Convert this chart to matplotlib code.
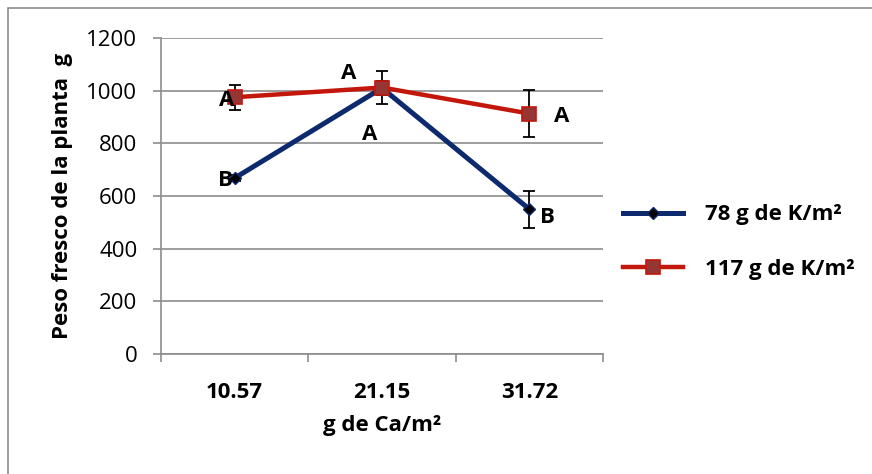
import matplotlib
matplotlib.use('Agg')
import matplotlib.pyplot as plt
from matplotlib.patches import Rectangle
import numpy as np

plt.rcParams['font.family'] = ['Open Sans', 'DejaVu Sans']

# ---- data ----
ca_levels = ['10.57', '21.15', '31.72']
peso_78 = [668, 1010, 550]
err_78 = [10, 25, 70]
peso_117 = [975, 1012, 913]
err_117 = [47, 63, 90]
letras_78 = ['B', 'A', 'B']
letras_117 = ['A', 'A', 'A']

azul = '#0e2a6e'
rojo = '#c4170c'
gris = '#8c8c8c'
fs = 16

fig = plt.figure(figsize=(8.72, 4.74), dpi=100)
ax = fig.add_axes([161/872, 1 - 354/474, 442/872, 316/474])

x = np.arange(len(ca_levels))

# error bars sit behind the markers
ax.errorbar(x, peso_78, yerr=err_78, fmt='none', ecolor='black', elinewidth=1.3,
            capsize=4, capthick=1.3, zorder=2)
ax.errorbar(x, peso_117, yerr=err_117, fmt='none', ecolor='black', elinewidth=1.3,
            capsize=4, capthick=1.3, zorder=2)
ax.plot(x, peso_78, '-', color=azul, lw=3.6, marker='D', markersize=6,
        markerfacecolor='black', markeredgecolor=azul, markeredgewidth=1,
        label='78 g de K/m²', zorder=3)
ax.plot(x, peso_117, '-', color=rojo, lw=3.2, marker='s', markersize=10,
        markerfacecolor='#963634', markeredgecolor=rojo, markeredgewidth=1.2,
        label='117 g de K/m²', zorder=4)

# significance letters
off_78 = [(-9, -2), (-12, -46), (18, -8)]
off_117 = [(-8, -3), (-33, 14), (32, -3)]
for i in range(len(x)):
    ax.annotate(letras_78[i], (x[i], peso_78[i]), xytext=off_78[i], textcoords='offset pixels',
                ha='center', va='center', fontsize=fs, fontweight='bold', zorder=5)
    ax.annotate(letras_117[i], (x[i], peso_117[i]), xytext=off_117[i], textcoords='offset pixels',
                ha='center', va='center', fontsize=fs, fontweight='bold', zorder=5)

ax.set_xlim(-0.5, 2.5)
ax.set_ylim(0, 1200)
ax.set_yticks(np.arange(0, 1201, 200))
ax.set_xticks(x)
ax.set_xticklabels(ca_levels, fontsize=fs, fontweight='bold')
ax.set_xticks([-0.5, 0.5, 1.5, 2.5], minor=True)
ax.tick_params(axis='x', which='major', length=0, pad=20)
ax.tick_params(axis='x', which='minor', length=6, color=gris, width=1.2, direction='out')
ax.tick_params(axis='y', length=6, color=gris, width=1.2, labelsize=fs, pad=11)
ax.grid(axis='y', color=gris, lw=1.2)
ax.set_axisbelow(True)
for s in ['top', 'right']:
    ax.spines[s].set_visible(False)
for s in ['left', 'bottom']:
    ax.spines[s].set_color(gris)
    ax.spines[s].set_linewidth(1.2)

ax.set_xlabel('g de Ca/m²', fontsize=fs, fontweight='bold', labelpad=9)
ax.set_ylabel('Peso fresco de la planta  g', fontsize=fs, fontweight='bold', labelpad=10)

ax.legend(loc='center left', bbox_to_anchor=(603/872, 1 - 242/474), bbox_transform=fig.transFigure,
          frameon=False, prop={'size': fs, 'weight': 'bold'}, handlelength=2.7,
          labelspacing=1.5, handletextpad=1.0)

# outer chart frame
fig.patches.append(Rectangle((8/872, -0.1), 1.2, 1.1 - 8/474, transform=fig.transFigure,
                             fill=False, edgecolor=gris, lw=1.2))

plt.savefig('out.png', dpi=100)
plt.close()
